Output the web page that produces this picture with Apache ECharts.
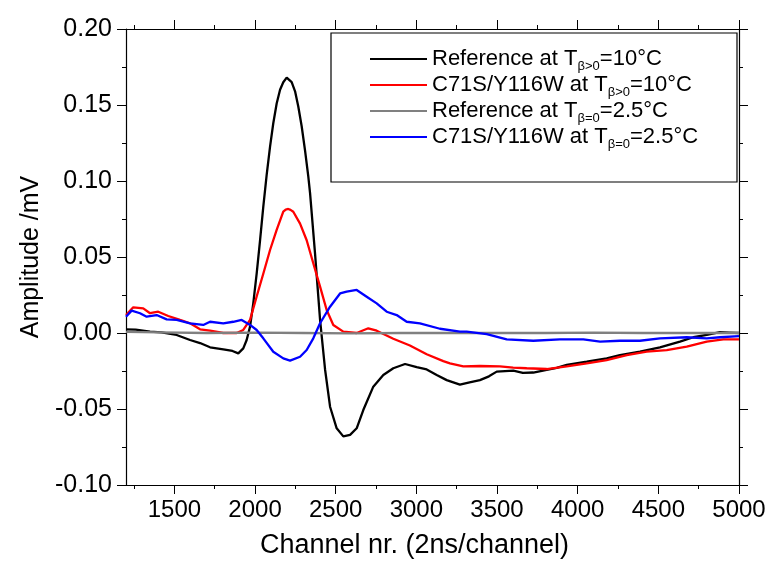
<!DOCTYPE html>
<html>
<head>
<meta charset="utf-8">
<script src="https://cdn.jsdelivr.net/npm/echarts@6/dist/echarts.min.js"></script>
<style>
  html, body { margin: 0; padding: 0; background: #fff; }
  #main { width: 771px; height: 565px; }
</style>
</head>
<body>
<div id="main"></div>
<script>
// series names (legend)
var seriesNames = ['Reference at T\u03b2>0=10\u00b0C', 'C71S/Y116W at T\u03b2>0=10\u00b0C',
                   'Reference at T\u03b2=0=2.5\u00b0C', 'C71S/Y116W at T\u03b2=0=2.5\u00b0C'];
var legendRich = [
  '{t|Reference at T}{s|\u03b2>0}{t|=10\u00b0C}',
  '{t|C71S/Y116W at T}{s|\u03b2>0}{t|=10\u00b0C}',
  '{t|Reference at T}{s|\u03b2=0}{t|=2.5\u00b0C}',
  '{t|C71S/Y116W at T}{s|\u03b2=0}{t|=2.5\u00b0C}'
];
var lineColors = ['#000000', '#ff0000', '#808080', '#0000ff'];

// tick labels
var xMajorTicks = [1500, 2000, 2500, 3000, 3500, 4000, 4500, 5000];
var xMinorTicks = [1250, 1750, 2250, 2750, 3250, 3750, 4250, 4750];

// Reference at Tb>0 = 10C (black)
var refHotX = [1200, 1260, 1349, 1420, 1514, 1597, 1659, 1721, 1803, 1860, 1896, 1927, 1948, 1969, 1989, 2010, 2031, 2051, 2072, 2093,
               2113, 2134, 2155, 2175, 2196, 2227, 2248, 2268, 2289, 2310, 2330, 2341, 2372, 2403, 2434, 2465, 2506, 2547, 2589, 2630,
               2671, 2733, 2795, 2857, 2930, 3002, 3064, 3126, 3188, 3270, 3330, 3394, 3450, 3498, 3601,
               3660, 3725, 3808, 3870, 3932, 4056, 4180, 4262, 4386, 4510, 4634, 4717, 4800, 4882, 4940, 5000];
var refHotY = [0.0024, 0.0022, 0.0009, 0.0004, -0.0013, -0.0046, -0.0066, -0.0094, -0.0107, -0.0118, -0.0134, -0.0101, -0.0046, 0.0042, 0.0195, 0.039, 0.061, 0.083, 0.104, 0.1226,
               0.138, 0.151, 0.160, 0.165, 0.168, 0.165, 0.159, 0.149, 0.136, 0.120, 0.103, 0.092, 0.052, 0.0086, -0.024, -0.0485, -0.0627, -0.068, -0.067, -0.0627,
               -0.0507, -0.0353, -0.0276, -0.0232, -0.0204, -0.0225, -0.0240, -0.0276, -0.0310, -0.0340, -0.0325, -0.0310, -0.0285, -0.0254, -0.0248,
               -0.0262, -0.0260, -0.0243, -0.0230, -0.0210, -0.0189, -0.0167, -0.0145, -0.0123, -0.0094, -0.0057, -0.0028, -0.0013, 0.0005, 0.0003, 0.0];

// C71S/Y116W at Tb>0 = 10C (red)
var mutHotX = [1200, 1245, 1307, 1349, 1400, 1462, 1535, 1597, 1659, 1721, 1803, 1886, 1927, 1969, 2010, 2051,
               2093, 2134, 2175, 2190, 2206, 2220, 2237, 2279, 2320, 2361, 2403, 2444, 2485, 2547, 2630, 2702, 2754,
               2857, 2960, 3064, 3167, 3208, 3291, 3394, 3518, 3600, 3684, 3808, 3932, 4056, 4180, 4304,
               4428, 4552, 4676, 4800, 4903, 5000];
var mutHotY = [0.0118, 0.0169, 0.0162, 0.0130, 0.0140, 0.0112, 0.0086, 0.0064, 0.0024, 0.0015, 0.0, 0.0, 0.0020, 0.0086, 0.024, 0.039,
               0.0546, 0.0678, 0.0798, 0.0812, 0.0816, 0.0810, 0.0798, 0.072, 0.061, 0.0459, 0.0305, 0.0151, 0.0053, 0.0009, 0.0, 0.0031, 0.0015,
               -0.0038, -0.0082, -0.0140, -0.0185, -0.0200, -0.0220, -0.0217, -0.0220, -0.0228, -0.0232, -0.0237, -0.0220, -0.0200, -0.0178, -0.0145,
               -0.0123, -0.0112, -0.0090, -0.0057, -0.0042, -0.0042];

// Reference at Tb=0 = 2.5C (gray)
var refColdX = [1200, 1400, 1700, 2000, 2300, 2600, 2900, 3200, 3500, 3800, 4100, 4400, 4700, 5000];
var refColdY = [0.0007, 0.0004, 0.0, 0.0002, 0.0, -0.0002, 0.0, 0.0, 0.0001, 0.0, 0.0002, 0.0, 0.0, 0.0];

// C71S/Y116W at Tb=0 = 2.5C (blue)
var mutColdX = [1200, 1235, 1287, 1328, 1390, 1452, 1514, 1597, 1679, 1721, 1803, 1865, 1917, 1969, 2010, 2051,
                2113, 2175, 2217, 2279, 2320, 2361, 2403, 2465, 2527, 2568, 2630, 2692, 2754, 2816, 2878,
                2940, 3022, 3146, 3270, 3312, 3436, 3560, 3725, 3890, 4035, 4139, 4262, 4386, 4510, 4676,
                4800, 4882, 5000];
var mutColdY = [0.0107, 0.0147, 0.0130, 0.0107, 0.0118, 0.0090, 0.0086, 0.0064, 0.0053, 0.0074, 0.0064, 0.0074, 0.0086, 0.0053, 0.0020, -0.0035,
                -0.0123, -0.0167, -0.0182, -0.0156, -0.0112, -0.0035, 0.0064, 0.0173, 0.0260, 0.0272, 0.0283, 0.0239, 0.0195, 0.0140, 0.0118,
                0.0074, 0.0064, 0.0028, 0.0009, 0.0009, -0.0007, -0.0042, -0.0051, -0.0042, -0.0042, -0.0057, -0.0051, -0.0051, -0.0035, -0.0028,
                -0.0035, -0.0028, -0.0020];

function zip(xs, ys) {
    var out = [];
    for (var i = 0; i < xs.length; i++) out.push([xs[i], ys[i]]);
    return out;
}

var FONT = "'Liberation Sans', Arial, sans-serif";
var myChart = echarts.init(document.getElementById('main'));

var xBase = {
    type: 'value', min: 1200, max: 5000, gridIndex: 0,
    splitLine: { show: false },
    axisLine: { show: true, onZero: false, lineStyle: { color: '#000', width: 1.2 } }
};
var yBase = {
    type: 'value', min: -0.1, max: 0.2, interval: 0.05, gridIndex: 0,
    splitLine: { show: false },
    axisLine: { show: true, onZero: false, lineStyle: { color: '#000', width: 1.2 } },
    axisTick: { show: true, length: 9, lineStyle: { color: '#000' } },
    minorTick: { show: true, splitNumber: 2, length: 4, lineStyle: { color: '#000' } }
};

var option = {
    animation: false,
    backgroundColor: '#fff',
    grid: { left: 126, right: 32, top: 29, bottom: 80 },
    xAxis: [
        echarts.util.merge({
            position: 'bottom',
            name: 'Channel nr. (2ns/channel)',
            nameLocation: 'middle',
            nameGap: 47,
            nameTextStyle: { fontFamily: FONT, fontSize: 27, color: '#000', padding: [0, 36, 0, 0] },
            axisTick: { show: true, length: 9, customValues: xMajorTicks, lineStyle: { color: '#000' } },
            axisLabel: {
                show: true, customValues: xMajorTicks, margin: 13, fontFamily: FONT, fontSize: 24, color: '#000',
                formatter: function (v) { return String(v); }
            }
        }, xBase, true),
        echarts.util.merge({
            position: 'bottom',
            axisLine: { show: false },
            axisTick: { show: true, length: 4, customValues: xMinorTicks, lineStyle: { color: '#000' } },
            axisLabel: { show: false }
        }, xBase, false),
        echarts.util.merge({
            position: 'top',
            axisTick: { show: true, length: 9, customValues: xMajorTicks, lineStyle: { color: '#000' } },
            axisLabel: { show: false }
        }, xBase, false),
        echarts.util.merge({
            position: 'top',
            axisLine: { show: false },
            axisTick: { show: true, length: 4, customValues: xMinorTicks, lineStyle: { color: '#000' } },
            axisLabel: { show: false }
        }, xBase, false)
    ],
    yAxis: [
        echarts.util.merge({
            position: 'left',
            name: 'Amplitude /mV',
            nameLocation: 'middle',
            nameGap: 82,
            nameTextStyle: { fontFamily: FONT, fontSize: 25, color: '#000' },
            axisLabel: {
                margin: 14, fontFamily: FONT, fontSize: 25, color: '#000',
                formatter: function (v) { return v.toFixed(2); }
            }
        }, yBase, false),
        echarts.util.merge({
            position: 'right',
            axisLabel: { show: false }
        }, yBase, false)
    ],
    legend: {
        orient: 'vertical',
        left: 370,
        top: 48,
        padding: 0,
        itemGap: 1,
        itemWidth: 57,
        itemHeight: 2,
        icon: 'rect',
        data: seriesNames,
        formatter: function (name) { return legendRich[seriesNames.indexOf(name)]; },
        textStyle: {
            rich: {
                t: { fontFamily: FONT, fontSize: 22, color: '#000', lineHeight: 28 },
                s: { fontFamily: FONT, fontSize: 13, color: '#000', lineHeight: 13, verticalAlign: 'bottom' }
            }
        }
    },
    graphic: [{
        type: 'rect',
        shape: { x: 331, y: 33, width: 406, height: 149 },
        style: { fill: 'none', stroke: '#000', lineWidth: 1.2 },
        z: 10
    }],
    series: [
        { name: seriesNames[0], data: zip(refHotX, refHotY) },
        { name: seriesNames[1], data: zip(mutHotX, mutHotY) },
        { name: seriesNames[2], data: zip(refColdX, refColdY) },
        { name: seriesNames[3], data: zip(mutColdX, mutColdY) }
    ].map(function (s, i) {
        return {
            name: s.name, type: 'line', data: s.data,
            xAxisIndex: 0, yAxisIndex: 0,
            symbol: 'none', smooth: false,
            color: lineColors[i],
            lineStyle: { color: lineColors[i], width: 2.3 }
        };
    })
};
myChart.setOption(option);
</script>
</body>
</html>
